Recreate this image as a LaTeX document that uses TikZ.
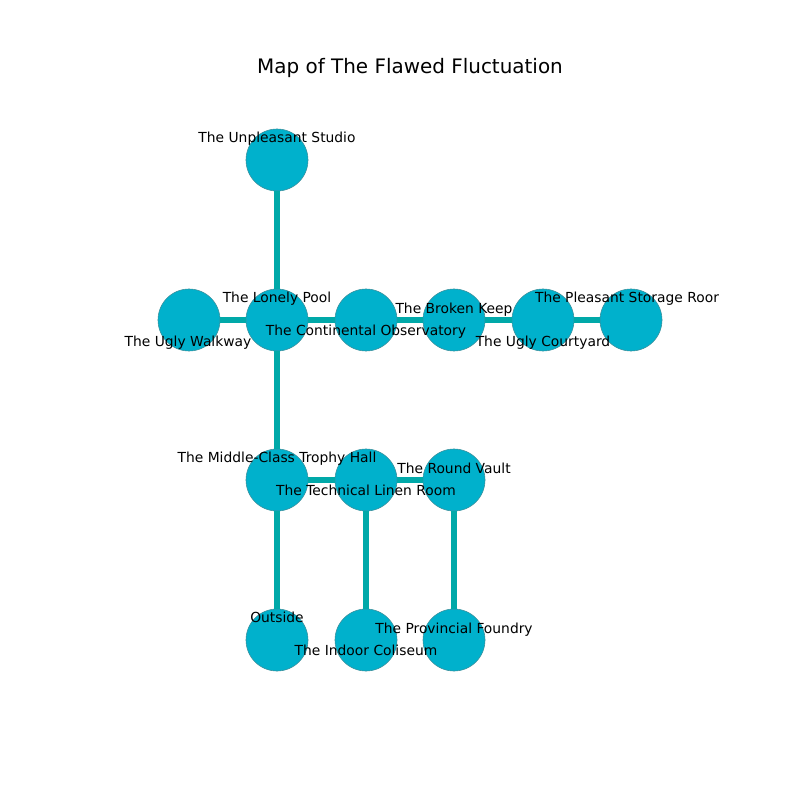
\documentclass[tikz,border=0pt]{standalone}
\usepackage{fontspec}
\setmainfont{DejaVu Sans}
\definecolor{roomfill}{HTML}{00B1CC}
\definecolor{roomline}{HTML}{3D8E9A}
\definecolor{linkcol}{HTML}{00A9A9}
\tikzstyle{room}=[circle,fill=roomfill,draw=roomline,line width=0.4pt,minimum size=0.62in,inner sep=0pt]
\tikzstyle{link}=[draw=linkcol,line width=4.3pt]
\tikzstyle{lbl}=[inner sep=0pt,text depth=0.24em,yshift=-1.5pt,font=\fontsize{10}{12}\selectfont]

\begin{document}
\begin{tikzpicture}[x=0.01in,y=-0.01in]
\useasboundingbox (0,0) rectangle (800,800);
\node[inner sep=0pt,yshift=-1pt,font=\fontsize{14.4}{17}\selectfont] at (410, 67) (title) {Map of The Flawed Fluctuation};
\node[room] at (277, 160) (studio) {};
\node[room] at (189, 320) (walkway) {};
\node[room] at (277, 320) (pool) {};
\node[room] at (366, 320) (observatory) {};
\node[room] at (454, 320) (keep) {};
\node[room] at (543, 320) (courtyard) {};
\node[room] at (631, 320) (storage) {};
\node[room] at (277, 480) (trophy) {};
\node[room] at (366, 480) (linen) {};
\node[room] at (454, 480) (vault) {};
\node[room] at (277, 640) (outside) {};
\node[room] at (366, 640) (coliseum) {};
\node[room] at (454, 640) (foundry) {};
\draw[link] (studio) -- (pool);
\draw[link] (walkway) -- (pool);
\draw[link] (pool) -- (observatory);
\draw[link] (observatory) -- (keep);
\draw[link] (keep) -- (courtyard);
\draw[link] (courtyard) -- (storage);
\draw[link] (pool) -- (trophy);
\draw[link] (trophy) -- (linen);
\draw[link] (linen) -- (vault);
\draw[link] (trophy) -- (outside);
\draw[link] (linen) -- (coliseum);
\draw[link] (vault) -- (foundry);
\node[lbl] at (277, 137) (studio-l) {The Unpleasant Studio};
\node[lbl] at (277, 297) (pool-l) {The Lonely Pool};
\node[lbl] at (188, 341) (walkway-l) {The Ugly Walkway};
\node[lbl] at (366, 330) (observatory-l) {The Continental Observatory};
\node[lbl] at (454, 308) (keep-l) {The Broken Keep};
\node[lbl] at (543, 341) (courtyard-l) {The Ugly Courtyard};
\node[lbl] at (627, 297) (storage-l) {The Pleasant Storage Roor};
\node[lbl] at (277, 457) (trophy-l) {The Middle-Class Trophy Hall};
\node[lbl] at (366, 490) (linen-l) {The Technical Linen Room};
\node[lbl] at (454, 468) (vault-l) {The Round Vault};
\node[lbl] at (277, 617) (outside-l) {Outside};
\node[lbl] at (366, 650) (coliseum-l) {The Indoor Coliseum};
\node[lbl] at (454, 628) (foundry-l) {The Provincial Foundry};
\end{tikzpicture}
\end{document}
